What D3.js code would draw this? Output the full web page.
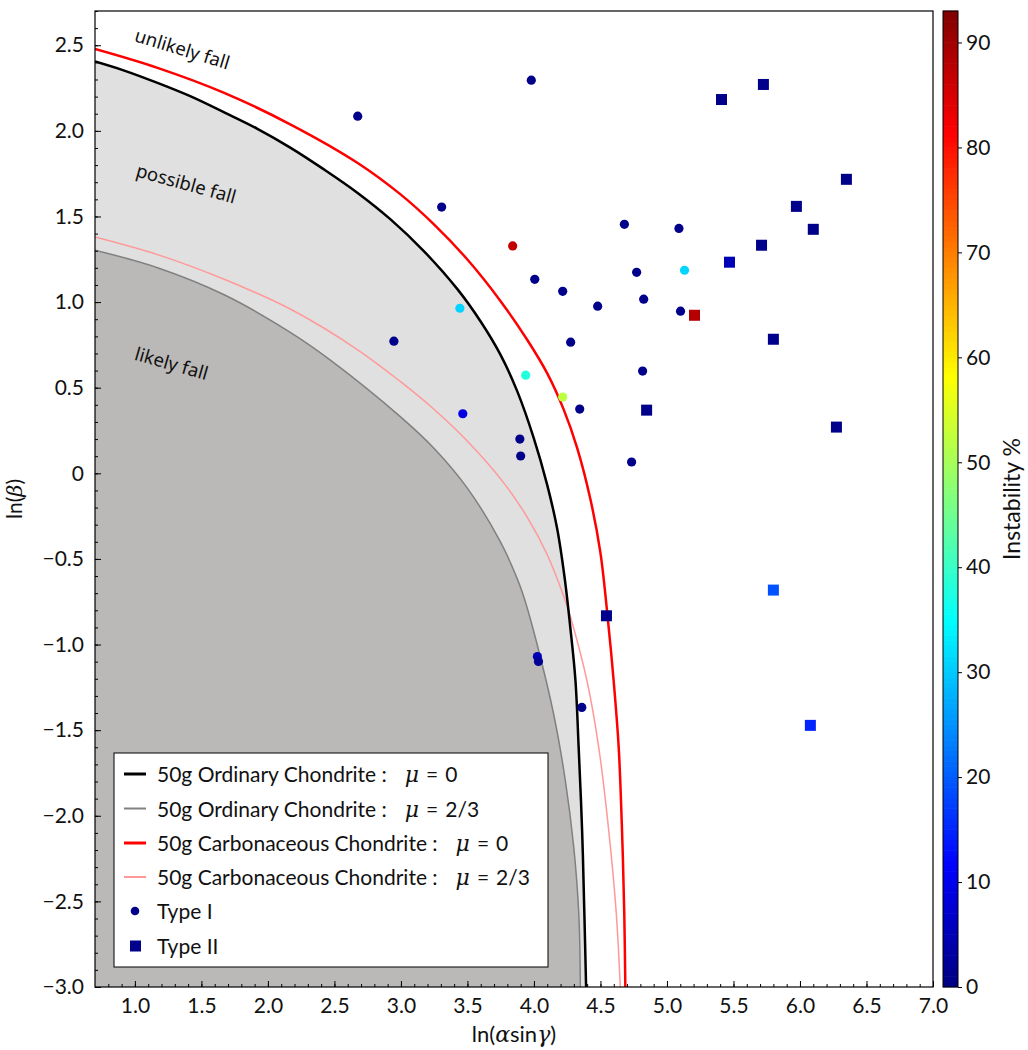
<!DOCTYPE html>
<html>
<head>
<meta charset="utf-8">
<script src="https://cdn.jsdelivr.net/npm/d3@7"></script>
<style>
  body { margin: 0; background: #fff; }
  svg text { font-family: Lato, "DejaVu Sans", sans-serif; fill: #111; }
  .note { font-family: "Noto Sans", "DejaVu Sans", sans-serif; }
  .mu { font-family: "DejaVu Serif", serif; font-style: italic; }
</style>
</head>
<body>
<svg id="chart" width="1028" height="1050"></svg>
<script>
// curve points: [ln(alpha sin gamma), ln(beta)]
const ocMu0 = [
  [0.70, 2.405], [0.92, 2.352], [1.17, 2.28], [1.42, 2.201], [1.671, 2.108],
  [1.921, 2.012], [2.171, 1.901], [2.421, 1.775], [2.672, 1.639], [2.922, 1.483],
  [3.172, 1.298], [3.423, 1.077], [3.598, 0.888], [3.748, 0.693], [3.874, 0.48],
  [3.998, 0.207], [4.099, -0.066], [4.174, -0.321], [4.231, -0.612], [4.274, -0.905],
  [4.312, -1.21], [4.336, -1.599], [4.362, -2.085], [4.379, -2.57], [4.392, -3.0]
];
const ocMu23 = [
  [0.70, 1.303], [1.17, 1.201], [1.671, 1.043], [2.171, 0.822], [2.472, 0.66],
  [2.997, 0.33], [3.248, 0.147], [3.498, -0.085], [3.748, -0.40], [3.874, -0.615],
  [3.923, -0.72], [4.024, -1.0], [4.149, -1.41], [4.237, -1.80], [4.299, -2.182],
  [4.337, -2.57], [4.349, -3.0]
];
const ccMu0 = [
  [0.70, 2.478], [1.17, 2.368], [1.671, 2.222], [2.171, 2.037], [2.672, 1.814],
  [2.997, 1.629], [3.248, 1.454], [3.498, 1.25], [3.748, 1.007], [3.949, 0.78],
  [4.099, 0.585], [4.224, 0.372], [4.324, 0.15], [4.424, -0.15], [4.499, -0.46],
  [4.549, -0.80], [4.599, -1.21], [4.637, -1.599], [4.662, -2.085], [4.679, -2.57],
  [4.687, -3.0]
];
const ccMu23 = [
  [0.70, 1.38], [1.17, 1.277], [1.671, 1.133], [2.171, 0.958], [2.672, 0.723],
  [2.997, 0.535], [3.248, 0.374], [3.498, 0.189], [3.748, -0.031], [3.949, -0.256],
  [4.099, -0.474], [4.224, -0.718], [4.274, -0.838], [4.399, -1.213], [4.487, -1.60],
  [4.562, -2.085], [4.619, -2.57], [4.649, -3.0]
];

// Type I events: x, y, instability %
const typeIx = [2.675, 3.98, 3.306, 3.84, 4.68, 5.09, 4.772, 5.132, 4.006, 4.216,
  4.479, 4.825, 5.102, 3.443, 2.947, 4.276, 3.938, 4.817, 4.216, 4.344,
  3.465, 3.894, 3.90, 4.734, 4.026, 4.034, 4.36];
const typeIy = [2.086, 2.296, 1.555, 1.328, 1.454, 1.43, 1.174, 1.186, 1.133, 1.063,
  0.976, 1.017, 0.947, 0.964, 0.772, 0.766, 0.573, 0.597, 0.445, 0.375,
  0.348, 0.20, 0.101, 0.066, -1.07, -1.099, -1.367];
const typeIc = [1, 1, 1, 87, 1, 1, 1, 31, 1, 1,
  1, 1, 1, 31, 1, 1, 38, 1, 52, 1,
  9, 1, 1, 1, 5, 2, 1];

// Type II events
const typeIIx = [5.725, 5.41, 6.349, 5.973, 6.10, 5.711, 5.47, 5.207, 5.80, 4.847,
  6.274, 4.545, 5.80, 6.078];
const typeIIy = [2.271, 2.183, 1.717, 1.559, 1.425, 1.332, 1.233, 0.923, 0.783, 0.369,
  0.27, -0.832, -0.682, -1.472];
const typeIIc = [1, 1, 1, 1, 1, 1, 5, 88, 1, 1,
  1, 1, 19, 15];

const xTicks = [1.0, 1.5, 2.0, 2.5, 3.0, 3.5, 4.0, 4.5, 5.0, 5.5, 6.0, 6.5, 7.0];
const yTicks = [-3.0, -2.5, -2.0, -1.5, -1.0, -0.5, 0, 0.5, 1.0, 1.5, 2.0, 2.5];
const cTicks = [0, 10, 20, 30, 40, 50, 60, 70, 80, 90];

const legendItems = [
  { label: '50g Ordinary Chondrite :', mu: '0', kind: 'line', color: '#000', w: 2.5 },
  { label: '50g Ordinary Chondrite :', mu: '2/3', kind: 'line', color: '#808080', w: 1.5 },
  { label: '50g Carbonaceous Chondrite :', mu: '0', kind: 'line', color: '#f00', w: 2.5 },
  { label: '50g Carbonaceous Chondrite :', mu: '2/3', kind: 'line', color: '#ff9999', w: 1.5 },
  { label: 'Type I', kind: 'circle' },
  { label: 'Type II', kind: 'square' }
];

const notes = [
  { text: 'unlikely fall', x: 0.99, y: 2.525, angle: 17 },
  { text: 'possible fall', x: 1.0, y: 1.735, angle: 15.5 },
  { text: 'likely fall', x: 0.99, y: 0.665, angle: 16 }
];

// jet colormap
function jet(t) {
  t = Math.max(0, Math.min(1, t));
  const f = (a) => Math.max(0, Math.min(1, a));
  const r = f(1.5 - Math.abs(4 * t - 3));
  const g = f(1.5 - Math.abs(4 * t - 2));
  const b = f(1.5 - Math.abs(4 * t - 1));
  return d3.rgb(r * 255, g * 255, b * 255).formatHex();
}

const margin = { top: 11, right: 95, bottom: 63, left: 95 };
const width = 1028, height = 1050;
const plotR = width - margin.right; // 933
const plotB = height - margin.bottom; // 987

const svg = d3.select('#chart');

const xScale = d3.scaleLinear().domain([0.7, 7.0]).range([margin.left, plotR]);
const yScale = d3.scaleLinear().domain([-3.0, 2.7]).range([plotB, margin.top]);
const cMax = 93;
const cScale = d3.scaleLinear().domain([0, cMax]).range([plotB, margin.top]);
const colorOf = (v) => jet(v / cMax);

svg.append('defs').append('clipPath').attr('id', 'plotclip')
  .append('rect')
  .attr('x', margin.left).attr('y', margin.top)
  .attr('width', plotR - margin.left).attr('height', plotB - margin.top);

const plot = svg.append('g').attr('clip-path', 'url(#plotclip)');

const line = d3.line()
  .x(d => xScale(d[0]))
  .y(d => yScale(d[1]))
  .curve(d3.curveCatmullRom.alpha(0.5));

// shaded regions under the ordinary chondrite curves
plot.append('path')
  .attr('d', line(ocMu0) + `L${xScale(0.7)},${yScale(-3.0)}Z`)
  .attr('fill', '#e0e0e0');
plot.append('path')
  .attr('d', line(ocMu23) + `L${xScale(0.7)},${yScale(-3.0)}Z`)
  .attr('fill', '#bab9b8');

// curves
const curves = [
  { pts: ocMu23, color: '#808080', w: 1.5 },
  { pts: ccMu23, color: '#ff9999', w: 1.5 },
  { pts: ocMu0, color: '#000', w: 2.5 },
  { pts: ccMu0, color: '#f00', w: 2.5 }
];
plot.selectAll('path.curve')
  .data(curves)
  .join('path')
  .attr('class', 'curve')
  .attr('d', d => line(d.pts))
  .attr('fill', 'none')
  .attr('stroke', d => d.color)
  .attr('stroke-width', d => d.w);

// annotations
svg.selectAll('text.note')
  .data(notes)
  .join('text')
  .attr('class', 'note')
  .attr('transform', d => `translate(${xScale(d.x)},${yScale(d.y)}) rotate(${d.angle})`)
  .attr('font-size', 18.5)
  .text(d => d.text);

// points
const typeI = typeIx.map((x, i) => ({ x, y: typeIy[i], c: typeIc[i] }));
const typeII = typeIIx.map((x, i) => ({ x, y: typeIIy[i], c: typeIIc[i] }));

plot.append('g').selectAll('circle')
  .data(typeI)
  .join('circle')
  .attr('cx', d => xScale(d.x))
  .attr('cy', d => yScale(d.y))
  .attr('r', 4.6)
  .attr('fill', d => colorOf(d.c));

const sq = 11;
plot.append('g').selectAll('rect')
  .data(typeII)
  .join('rect')
  .attr('x', d => xScale(d.x) - sq / 2)
  .attr('y', d => yScale(d.y) - sq / 2)
  .attr('width', sq)
  .attr('height', sq)
  .attr('fill', d => colorOf(d.c));

// axes
const xAxis = svg.append('g').attr('transform', `translate(0,${plotB})`);
xAxis.call(d3.axisBottom(xScale).tickValues(d3.range(0.8, 7.0001, 0.1)).tickSize(-3).tickFormat(''));
xAxis.append('g').call(d3.axisBottom(xScale).tickValues(xTicks).tickSize(-6).tickPadding(11)
  .tickFormat(d3.format('.1f')));

const yAxis = svg.append('g').attr('transform', `translate(${margin.left},0)`);
yAxis.call(d3.axisLeft(yScale).tickValues(d3.range(-2.9, 2.7001, 0.1)).tickSize(-3).tickFormat(''));
yAxis.append('g').call(d3.axisLeft(yScale).tickValues(yTicks).tickSize(-6).tickPadding(11)
  .tickFormat(d => d === 0 ? '0' : (d < 0 ? '\u2212' + d3.format('.1f')(-d) : d3.format('.1f')(d))));

svg.selectAll('.domain').remove();
svg.selectAll('.tick line').attr('stroke', '#000');
svg.selectAll('.tick text').attr('font-size', 21).attr('fill', '#111');

// frame
svg.append('rect')
  .attr('x', margin.left).attr('y', margin.top)
  .attr('width', plotR - margin.left).attr('height', plotB - margin.top)
  .attr('fill', 'none').attr('stroke', '#000').attr('stroke-width', 1.2);

// axis labels
svg.append('text')
  .attr('x', (margin.left + plotR) / 2).attr('y', 1042)
  .attr('text-anchor', 'middle').attr('font-size', 22)
  .html('ln(<tspan class="mu">α</tspan>sin<tspan class="mu">γ</tspan>)');
svg.append('text')
  .attr('transform', `translate(22,${(margin.top + plotB) / 2}) rotate(-90)`)
  .attr('text-anchor', 'middle').attr('font-size', 21)
  .html('ln(<tspan class="mu">β</tspan>)');

// legend
const lg = svg.append('g').attr('transform', 'translate(114,753)');
lg.append('rect').attr('width', 434).attr('height', 214)
  .attr('fill', '#fff').attr('stroke', '#000').attr('stroke-width', 1);
const rowY = [21, 55.5, 90, 124, 158, 193];
legendItems.forEach((d, i) => {
  const g = lg.append('g').attr('transform', `translate(0,${rowY[i]})`);
  if (d.kind === 'line') {
    g.append('line').attr('x1', 10).attr('x2', 32).attr('y1', 0).attr('y2', 0)
      .attr('stroke', d.color).attr('stroke-width', d.w + 0.5);
  } else if (d.kind === 'circle') {
    g.append('circle').attr('cx', 21).attr('cy', 0).attr('r', 4.3).attr('fill', colorOf(1));
  } else {
    g.append('rect').attr('x', 16).attr('y', -5.5).attr('width', 11).attr('height', 11).attr('fill', colorOf(1));
  }
  const t = g.append('text').attr('x', 43).attr('y', 8).attr('font-size', 21);
  t.append('tspan').text(d.label);
  if (d.mu) {
    t.append('tspan').attr('dx', 18).attr('class', 'mu').attr('font-size', 22).text('μ');
    t.append('tspan').attr('dx', 7).text('=');
    t.append('tspan').attr('dx', 7).text(d.mu);
  }
});

// colorbar
const cbX = 943, cbW = 15;
const cb = svg.append('g');
const nBands = 186;
const steps = d3.range(nBands).map(i => i * cMax / nBands);
cb.selectAll('rect.band')
  .data(steps)
  .join('rect')
  .attr('class', 'band')
  .attr('x', cbX)
  .attr('width', cbW)
  .attr('y', d => cScale(d + cMax / nBands) - 0.3)
  .attr('height', d => cScale(d) - cScale(d + cMax / nBands) + 0.6)
  .attr('fill', d => colorOf(d + cMax / (2 * nBands)));
cb.append('rect').attr('x', cbX).attr('y', margin.top).attr('width', cbW)
  .attr('height', plotB - margin.top).attr('fill', 'none').attr('stroke', '#000').attr('stroke-width', 1);
const cAxis = cb.append('g').attr('transform', `translate(${cbX + cbW},0)`)
  .call(d3.axisRight(cScale).tickValues(cTicks).tickSize(4).tickPadding(4));
cAxis.select('.domain').remove();
cAxis.selectAll('.tick line').attr('stroke', '#000');
cAxis.selectAll('.tick text').attr('font-size', 21);
svg.append('text')
  .attr('transform', `translate(1020,${(margin.top + plotB) / 2}) rotate(-90)`)
  .attr('text-anchor', 'middle').attr('font-size', 23)
  .text('Instability %');
</script>
</body>
</html>
